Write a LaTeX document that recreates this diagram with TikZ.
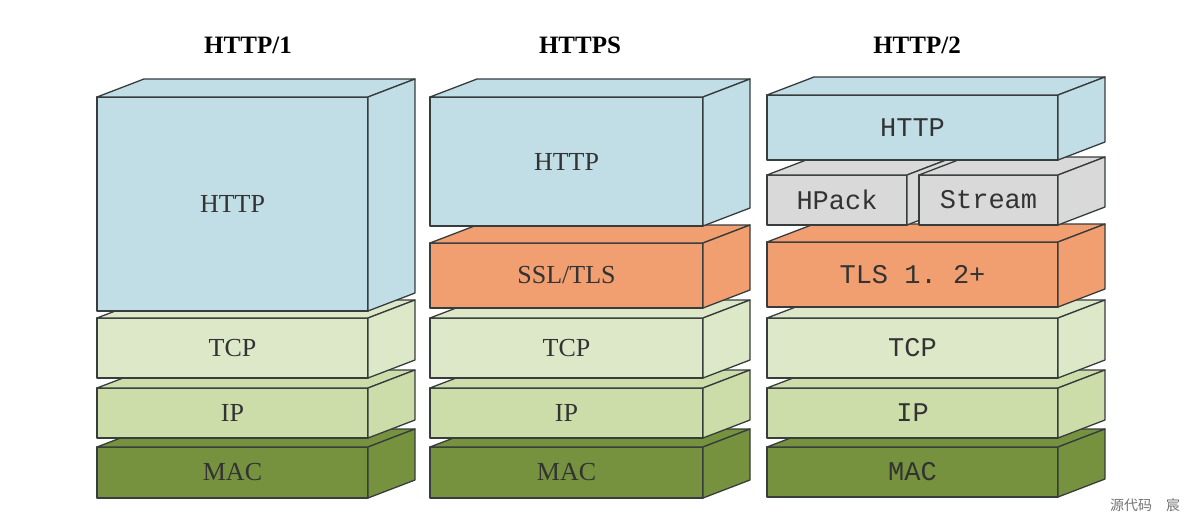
\documentclass[tikz,border=0pt]{standalone}
\usepackage{fontspec}
\setmainfont{Liberation Serif}
\setmonofont{Liberation Mono}
\newfontfamily\cjk{Noto Sans CJK SC}
\usetikzlibrary{calc}

\definecolor{httpblue}{RGB}{193,221,230}
\definecolor{tlsorange}{RGB}{241,158,112}
\definecolor{tcpgreen}{RGB}{221,232,200}
\definecolor{ipgreen}{RGB}{205,221,170}
\definecolor{macgreen}{RGB}{118,146,62}
\definecolor{packgray}{RGB}{217,217,217}
\definecolor{edgegray}{RGB}{55,60,60}

\tikzset{
  slab/.style={draw=edgegray, line width=1.3pt, rectangle, inner sep=0pt, outer sep=0pt, text=black!80, line join=round},
  depth/.style={draw=edgegray, line width=1.3pt, line join=round},
  seriflab/.style={font=\fontsize{26}{28}\selectfont},
  monolab/.style={font=\ttfamily\fontsize{27}{30}\selectfont},
  title/.style={font=\bfseries\fontsize{25}{28}\selectfont},
}

% one layer: front face is the node, top and side faces go behind it
\newcommand{\slab}[7]{%
  \node[slab, #2, minimum width=#5pt, minimum height=#6pt] (#1) at (#3,#4) {#7};
  \filldraw[depth, #2] (#1.north west) -- ++(47,-18) -- ++(#5,0) -- (#1.north east) -- cycle;
  \filldraw[depth, #2] (#1.north east) -- ++(47,-18) -- ++(0,#6) -- (#1.south east) -- cycle;
}

\begin{document}
\begin{tikzpicture}[x=1pt, y=-1pt]
  \useasboundingbox (0,0) rectangle (1196,524);

  \node[title] (titleone) at (248,45) {HTTP/1};
  \node[title] (titletls) at (580,45) {HTTPS};
  \node[title] (titletwo) at (917,45) {HTTP/2};

  % HTTP/1
  \slab{maconea}{fill=macgreen, seriflab}{232.5}{472.5}{271}{51}{MAC}
  \slab{ipone}{fill=ipgreen, seriflab}{232.5}{413}{271}{50}{IP}
  \slab{tcpone}{fill=tcpgreen, seriflab}{232.5}{348}{271}{60}{TCP}
  \slab{httpone}{fill=httpblue, seriflab}{232.5}{204}{271}{214}{HTTP}

  % HTTPS
  \slab{mactls}{fill=macgreen, seriflab}{566.5}{472.5}{273}{51}{MAC}
  \slab{iptls}{fill=ipgreen, seriflab}{566.5}{413}{273}{50}{IP}
  \slab{tcptls}{fill=tcpgreen, seriflab}{566.5}{348}{273}{60}{TCP}
  \slab{ssltls}{fill=tlsorange, seriflab}{566.5}{275.5}{273}{65}{SSL/TLS}
  \slab{httptls}{fill=httpblue, seriflab}{566.5}{161.5}{273}{129}{HTTP}

  % HTTP/2
  \slab{mactwo}{fill=macgreen, monolab}{912.5}{472}{291}{50}{MAC}
  \slab{iptwo}{fill=ipgreen, monolab}{912.5}{413}{291}{50}{IP}
  \slab{tcptwo}{fill=tcpgreen, monolab}{912.5}{348}{291}{60}{TCP}
  \slab{tlstwo}{fill=tlsorange, monolab}{912.5}{274.5}{291}{65}{TLS 1. 2+}
  \slab{hpack}{fill=packgray, monolab}{837}{200}{140}{50}{HPack}
  \slab{stream}{fill=packgray, monolab}{988.5}{200}{139}{50}{Stream}
  \slab{httptwo}{fill=httpblue, monolab}{912.5}{127.5}{291}{65}{HTTP}

  \node[font=\cjk\fontsize{14}{16}\selectfont, text=black!55] (mark) at (1145,505) {源代码　宸};
\end{tikzpicture}
\end{document}
